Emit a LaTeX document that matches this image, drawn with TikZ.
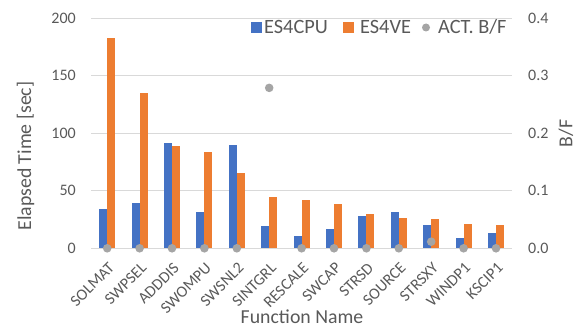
\documentclass[tikz,border=0pt]{standalone}
\usepackage{fontspec}
\setmainfont{Carlito}
\definecolor{cpu}{HTML}{4472C4}
\definecolor{ve}{HTML}{ED7D31}
\definecolor{bfc}{HTML}{A5A5A5}
\definecolor{txt}{HTML}{595959}
\definecolor{gridc}{HTML}{D9D9D9}
\begin{document}
\begin{tikzpicture}[x=1pt,y=1pt,
  gridline/.style={draw=gridc,line width=0.8pt},
  ticklab/.style={text=txt,font=\fontsize{16}{19}\selectfont,inner sep=0pt},
  cattitle/.style={text=txt,font=\fontsize{19.8}{23}\selectfont,inner sep=0pt},
  legtext/.style={text=txt,font=\fontsize{20.3}{23}\selectfont,inner sep=0pt,anchor=base west},
  catlab/.style={text=txt,font=\fontsize{16}{19}\selectfont,inner sep=0pt,rotate=45,anchor=north east},
  cpubar/.style={fill=cpu,draw=none},
  vebar/.style={fill=ve,draw=none},
  bfdot/.style={fill=bfc,draw=none}]
\useasboundingbox (0,0) rectangle (577,327);
% gridlines and tick labels
\foreach \v/\r [count=\k] in {0/0.0,50/0.1,100/0.2,150/0.3,200/0.4}{
  \draw[gridline] (91,78.7+1.15*\v) -- (512,78.7+1.15*\v);
  \node[ticklab,anchor=east] (yl\k) at (76,78.7+1.15*\v) {\v};
  \node[ticklab,anchor=west] (yr\k) at (528,78.7+1.15*\v) {\r};
}
% bars
\foreach \i/\b/\o/\n in {1/34/182.6/SOLMAT,2/39/134.8/SWPSEL,3/91.3/89.2/ADDDIS,4/31.3/83.7/SWOMPU,5/90.1/65.7/SWSNL2,6/19.4/44.9/SINTGRL,7/11/41.7/RESCALE,8/17/38.8/SWCAP,9/28.4/30.1/STRSD,10/31.8/26.6/SOURCE,11/20.5/25.8/STRSXY,12/8.7/21.4/WINDP1,13/13.3/20.3/KSCIP1}{
  \pgfmathsetmacro{\c}{91+32.4*(\i-0.5)}
  \fill[cpubar] (\c-8,78.7) rectangle (\c,78.7+1.15*\b);
  \fill[vebar] (\c,78.7) rectangle (\c+8,78.7+1.15*\o);
  \node[catlab] (cat\i) at (\c+0.5,65.5) {\n};
}
\foreach \i/\f in {1/0,2/0,3/0,4/0,5/0,6/0.279,7/0,8/0,9/0,10/0,11/0.0115,12/0,13/0}{
  \pgfmathsetmacro{\c}{91+32.4*(\i-0.5)}
  \fill[bfdot] (\c,78.7+575*\f) circle (4.3);
}
% axis titles
\node[cattitle,rotate=90] (ytitle) at (25.5,171) {Elapsed Time [sec]};
\node[cattitle,rotate=90] (y2title) at (566,193.5) {B/F};
\node[cattitle,anchor=base] (xtitle) at (302,3.7) {Function Name};
% legend
\fill[cpu] (251,294) rectangle (262,305);
\node[legtext] (lg1) at (264,293) {ES4CPU};
\fill[ve] (343,294) rectangle (354,305);
\node[legtext] (lg2) at (360,293) {ES4VE};
\fill[bfc] (426,299.5) circle (4);
\node[legtext] (lg3) at (438,293) {ACT. B/F};
\end{tikzpicture}
\end{document}
